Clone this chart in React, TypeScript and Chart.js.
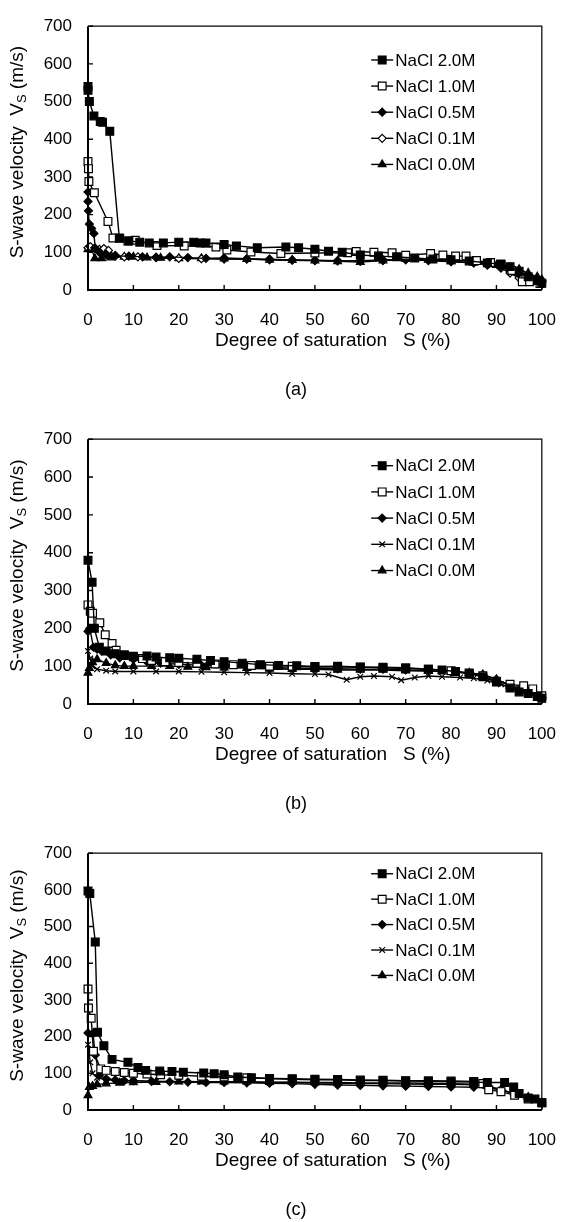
import React, { useEffect, useRef } from 'react';
import { Chart, registerables } from 'chart.js';

Chart.register(...registerables);

const FONT = '"Liberation Sans", Arial, sans-serif';

const SERIES_LABELS = ['NaCl 2.0M', 'NaCl 1.0M', 'NaCl 0.5M', 'NaCl 0.1M', 'NaCl 0.0M'];
const PANEL_CAPTIONS = ['(a)', '(b)', '(c)'];
const X_TITLE = 'Degree of saturation   S (%)';
const Y_TITLE_MAIN = 'S-wave velocity  V';
const Y_TITLE_SUB = 'S';
const Y_TITLE_UNIT = ' (m/s)';
const X_MIN = 0, X_MAX = 100, X_STEP = 10;
const Y_MIN = 0, Y_MAX = 700, Y_STEP = 100;

type P = [number, number][];

// ---- Panel (a) ----
const A_20: P = [[0, 540], [0, 530], [0.3, 500], [1.3, 462], [2.7, 447], [3.2, 445], [4.8, 421], [6.9, 138], [9, 130], [11.4, 127], [13.5, 125], [16.6, 125], [20, 127], [23.3, 127], [24.7, 125], [26, 125], [30, 121], [32.7, 117], [37.3, 112], [43.6, 114], [46.4, 112], [50, 108], [53, 103], [56, 100], [60, 93], [64, 90], [68, 88], [72, 85], [76, 82], [80, 80], [84, 77], [88, 72], [91, 68], [93, 62], [95, 50], [97, 35], [99, 25], [100, 18]];
const A_10: P = [[0, 341], [0.1, 322], [0.2, 288], [1.4, 258], [4.4, 182], [5.5, 138], [7, 137], [8.8, 130], [10.4, 132], [15.2, 118], [21.2, 117], [28.2, 114], [30.6, 106], [35.9, 101], [42.5, 97], [50, 98], [57.2, 99], [59.1, 102], [63, 100], [67, 99], [70, 92], [75.5, 97], [78.2, 93], [81, 90], [83.3, 90], [85.6, 78], [88.7, 73], [91, 69], [93.4, 52], [95.7, 22], [97.3, 22], [99.6, 17]];
const A_05: P = [[0, 260], [0, 235], [0.1, 210], [0.3, 175], [0.8, 163], [1.3, 150], [1.6, 110], [2.5, 100], [4, 95], [6, 90], [9, 90], [12, 88], [15, 87], [18, 88], [22, 86], [26, 84], [30, 85], [35, 83], [40, 82], [45, 80], [50, 79], [55, 78], [60, 76], [65, 78], [70, 80], [75, 78], [80, 75], [85, 72], [88, 68], [91, 62], [93, 55], [95, 45], [97, 35], [100, 25]];
const A_01: P = [[0, 112], [0.5, 115], [1.5, 112], [2.5, 108], [3.5, 110], [4.5, 105], [6, 92], [8, 88], [11, 88], [15, 86], [20, 84], [25, 83], [30, 82], [35, 82], [40, 80], [45, 79], [50, 78], [55, 77], [60, 78], [65, 80], [70, 82], [75, 80], [80, 76], [85, 72], [88, 66], [91, 58], [93, 45], [95, 32], [97, 30], [100, 22]];
const A_00: P = [[0, 108], [0.8, 110], [1.5, 84], [3, 84], [5, 86], [8, 88], [10, 88], [13, 86], [16, 85], [20, 84], [25, 84], [30, 83], [35, 82], [40, 80], [45, 79], [50, 78], [55, 76], [60, 74], [65, 78], [70, 82], [75, 80], [80, 76], [85, 72], [90, 66], [93, 60], [95, 55], [97, 45], [99, 35], [100, 28]];

// ---- Panel (b) ----
const B_20: P = [[0, 380], [0.9, 322], [1.4, 200], [2.5, 150], [4, 140], [6, 133], [8, 128], [10, 126], [13, 127], [15, 124], [18, 122], [20, 121], [24, 118], [27, 115], [30, 112], [34, 108], [38, 104], [42, 102], [46, 101], [50, 99], [55, 100], [60, 98], [65, 96], [70, 94], [75, 92], [78, 90], [81, 86], [84, 80], [87, 72], [90, 58], [93, 42], [95, 32], [97, 28], [99, 20], [100, 15]];
const B_10: P = [[0, 262], [0.5, 245], [1, 240], [2.6, 215], [3.8, 183], [5.3, 160], [6.2, 142], [8, 130], [10, 125], [12, 120], [14, 115], [17, 112], [20, 110], [24, 108], [28, 106], [32, 104], [36, 102], [40, 100], [45, 100], [50, 98], [55, 98], [60, 97], [65, 97], [70, 96], [75, 92], [80, 88], [84, 82], [87, 75], [90, 60], [93, 52], [96, 48], [98, 40], [100, 22]];
const B_05: P = [[0, 192], [0.4, 200], [1.2, 150], [2, 145], [3, 140], [5, 130], [7, 122], [10, 118], [13, 112], [16, 108], [20, 105], [25, 102], [30, 100], [35, 98], [40, 96], [45, 95], [50, 94], [55, 93], [60, 92], [65, 92], [70, 90], [75, 88], [80, 85], [84, 82], [87, 78], [90, 65], [93, 50], [95, 38], [97, 30], [100, 18]];
const B_01: P = [[0, 140], [0.5, 120], [1, 100], [2, 92], [4, 88], [6, 86], [10, 86], [15, 86], [20, 86], [25, 85], [30, 84], [35, 83], [40, 82], [45, 80], [50, 79], [53, 78], [57, 64], [60, 72], [63, 74], [67, 72], [69, 63], [72, 70], [75, 74], [78, 72], [82, 70], [85, 68], [88, 62], [91, 52], [94, 42], [97, 32], [100, 22]];
const B_00: P = [[0, 82], [0.3, 95], [1, 110], [2, 118], [4, 108], [6, 102], [8, 100], [10, 100], [14, 100], [18, 100], [22, 98], [26, 97], [30, 96], [35, 95], [40, 93], [45, 92], [50, 92], [55, 90], [60, 90], [65, 90], [70, 88], [75, 87], [80, 85], [84, 82], [87, 78], [90, 65], [93, 48], [95, 38], [97, 30], [100, 20]];

// ---- Panel (c) ----
const C_20: P = [[0, 597], [0.4, 590], [1.6, 458], [2.1, 212], [3.5, 175], [5.3, 138], [8.8, 130], [11, 116], [12.7, 108], [15.8, 106], [18.5, 105], [21, 103], [25.5, 101], [27.8, 99], [30, 96], [33, 90], [36, 88], [40, 86], [45, 84], [50, 82], [55, 82], [60, 80], [65, 80], [70, 79], [75, 78], [80, 77], [85, 76], [88, 75], [91.8, 75], [93.8, 63], [95, 45], [97, 33], [98.5, 30], [100, 20]];
const C_10: P = [[0, 330], [0.1, 278], [0.7, 250], [1.2, 160], [2.8, 112], [4, 108], [6, 105], [8, 102], [10, 100], [13, 98], [16, 96], [20, 95], [25, 92], [30, 90], [35, 88], [40, 86], [45, 85], [50, 84], [55, 83], [60, 82], [65, 81], [70, 80], [75, 80], [80, 79], [85, 78], [87, 72], [88.3, 55], [91, 50], [94, 40], [97, 30], [100, 20]];
const C_05: P = [[0, 210], [1.1, 208], [1.6, 150], [2.5, 95], [4, 85], [6, 82], [8, 80], [10, 80], [14, 78], [18, 77], [22, 76], [26, 75], [30, 75], [35, 74], [40, 73], [45, 72], [50, 70], [55, 68], [60, 67], [65, 66], [70, 65], [75, 64], [80, 63], [85, 62], [88, 60], [91, 55], [94, 45], [97, 33], [100, 20]];
const C_01: P = [[0, 178], [0.5, 130], [1, 100], [2, 88], [4, 82], [7, 80], [10, 80], [15, 78], [20, 78], [25, 77], [30, 76], [35, 76], [40, 75], [45, 75], [50, 74], [55, 73], [60, 72], [65, 72], [70, 71], [75, 70], [80, 70], [85, 69], [88, 66], [91, 55], [94, 45], [97, 35], [100, 22]];
const C_00: P = [[0, 40], [0.3, 62], [1, 65], [2, 70], [4, 72], [7, 74], [10, 75], [15, 76], [20, 77], [25, 77], [30, 77], [35, 77], [40, 76], [45, 76], [50, 75], [55, 75], [60, 74], [65, 74], [70, 74], [75, 73], [80, 72], [85, 70], [88, 65], [91, 55], [94, 45], [97, 35], [100, 20]];

// ---- styling (not data) ----
type Mk = { shape: string; fill: string; r: number };
const SQ_F: Mk = { shape: 'rect', fill: '#000', r: 5.5 };
const SQ_O: Mk = { shape: 'rect', fill: '#fff', r: 5.5 };
const DI_F: Mk = { shape: 'rectRot', fill: '#000', r: 4 };
const DI_O: Mk = { shape: 'rectRot', fill: '#fff', r: 4 };
const X_M: Mk = { shape: 'crossRot', fill: '#000', r: 4 };
const TR_F: Mk = { shape: 'triangle', fill: '#000', r: 4.5 };

const PLOT_LEFT = 88;
const PLOT_RIGHT = 563;

function drawMarker(ctx: CanvasRenderingContext2D, m: Mk, x: number, y: number) {
  const r = m.r;
  ctx.save();
  ctx.beginPath();
  if (m.shape === 'rect') {
    const s = r * Math.SQRT1_2;
    ctx.rect(x - s, y - s, 2 * s, 2 * s);
  } else if (m.shape === 'rectRot') {
    ctx.moveTo(x, y - r); ctx.lineTo(x + r, y); ctx.lineTo(x, y + r); ctx.lineTo(x - r, y); ctx.closePath();
  } else if (m.shape === 'triangle') {
    ctx.moveTo(x, y - r); ctx.lineTo(x + r * 0.866, y + r * 0.5); ctx.lineTo(x - r * 0.866, y + r * 0.5); ctx.closePath();
  } else if (m.shape === 'crossRot') {
    const s = r * Math.SQRT1_2;
    ctx.moveTo(x - s, y - s); ctx.lineTo(x + s, y + s); ctx.moveTo(x + s, y - s); ctx.lineTo(x - s, y + s);
  }
  if (m.shape !== 'crossRot') { ctx.fillStyle = m.fill; ctx.fill(); }
  ctx.strokeStyle = '#000'; ctx.lineWidth = 1.2; ctx.stroke();
  ctx.restore();
}

const decorPlugin = {
  id: 'decor',
  afterDraw(chart: any, _args: any, opts: any) {
    const { ctx, chartArea: ca, scales } = chart;
    const xs = scales.x, ys = scales.y;
    const w = ca.right - ca.left, h = ca.bottom - ca.top;
    ctx.save();
    ctx.strokeStyle = '#000';
    ctx.lineWidth = 1.2;
    ctx.beginPath();
    ctx.moveTo(ca.left, ca.top); ctx.lineTo(ca.right, ca.top); ctx.lineTo(ca.right, ca.bottom);
    ctx.stroke();
    ctx.lineWidth = 2;
    ctx.beginPath();
    ctx.moveTo(ca.left, ca.top); ctx.lineTo(ca.left, ca.bottom); ctx.lineTo(ca.right, ca.bottom);
    ctx.stroke();
    ctx.lineWidth = 1.4;
    ctx.beginPath();
    xs.ticks.forEach((t: any) => {
      const px = xs.getPixelForValue(t.value);
      ctx.moveTo(px, ca.bottom); ctx.lineTo(px, ca.bottom - 5);
    });
    ys.ticks.forEach((t: any) => {
      const py = ys.getPixelForValue(t.value);
      ctx.moveTo(ca.left, py); ctx.lineTo(ca.left + 5, py);
    });
    ctx.stroke();

    ctx.fillStyle = '#000';
    ctx.save();
    ctx.translate(opts.yTitleX, (ca.top + ca.bottom) / 2 - 6);
    ctx.rotate(-Math.PI / 2);
    const big = `19px ${FONT}`, small = `13px ${FONT}`;
    ctx.font = big;
    const w1 = ctx.measureText(Y_TITLE_MAIN).width;
    const w3 = ctx.measureText(Y_TITLE_UNIT).width;
    ctx.font = small;
    const w2 = ctx.measureText(Y_TITLE_SUB).width;
    let sx = -(w1 + w2 + w3) / 2;
    ctx.textBaseline = 'middle';
    ctx.textAlign = 'left';
    ctx.font = big; ctx.fillText(Y_TITLE_MAIN, sx, 0); sx += w1;
    ctx.font = small; ctx.fillText(Y_TITLE_SUB, sx, 4); sx += w2;
    ctx.font = big; ctx.fillText(Y_TITLE_UNIT, sx, 0);
    ctx.restore();

    ctx.font = `19px ${FONT}`;
    ctx.textAlign = 'left';
    ctx.textBaseline = 'middle';
    ctx.fillText(X_TITLE, ca.left + 127, ca.bottom + opts.xTitleOffset);

    ctx.font = `18px ${FONT}`;
    ctx.textAlign = 'center';
    ctx.fillText(opts.caption, opts.captionX, ca.bottom + opts.captionOffset);

    const lx = ca.left + 0.624 * w;
    const lineLen = 22;
    ctx.font = `17px ${FONT}`;
    ctx.textAlign = 'left';
    SERIES_LABELS.forEach((lab, i) => {
      const yy = ca.top + opts.legendTop * h + i * 0.099 * h;
      ctx.strokeStyle = '#000';
      ctx.lineWidth = 1.4;
      ctx.beginPath(); ctx.moveTo(lx, yy); ctx.lineTo(lx + lineLen, yy); ctx.stroke();
      drawMarker(ctx, opts.markers[i], lx + lineLen / 2, yy);
      ctx.fillStyle = '#000';
      ctx.fillText(lab, lx + lineLen + 2, yy + 1);
    });
    ctx.restore();
  },
};

type PanelProps = { series: P[]; markers: Mk[]; caption: string; height: number; top: number; bottom: number; legendTop: number };

function Panel({ series, markers, caption, height, top, bottom, legendTop }: PanelProps) {
  const ref = useRef<HTMLCanvasElement>(null);
  useEffect(() => {
    const tickFont = { family: FONT, size: 17 };
    const chart = new Chart(ref.current as HTMLCanvasElement, {
      type: 'scatter',
      data: {
        datasets: series.map((pts, i) => ({
          label: SERIES_LABELS[i],
          data: pts.map(([x, y]) => ({ x, y })),
          showLine: true,
          borderColor: '#000',
          borderWidth: 1.4,
          pointStyle: markers[i].shape as any,
          pointRadius: markers[i].r,
          pointBackgroundColor: markers[i].fill,
          pointBorderColor: '#000',
          pointBorderWidth: 1.2,
          clip: false as any,
        })),
      },
      options: {
        animation: false,
        responsive: false,
        events: [],
        layout: { padding: { top, right: 576 - PLOT_RIGHT, left: 0, bottom: 0 } },
        scales: {
          x: {
            type: 'linear',
            min: X_MIN, max: X_MAX,
            ticks: { stepSize: X_STEP, font: tickFont, color: '#000', padding: 20, maxRotation: 0, autoSkip: false },
            grid: { display: false, drawTicks: false },
            border: { display: false },
            afterFit: (s: any) => { s.height = height - bottom; },
          },
          y: {
            type: 'linear',
            min: Y_MIN, max: Y_MAX,
            ticks: { stepSize: Y_STEP, font: tickFont, color: '#000', padding: 16 },
            grid: { display: false, drawTicks: false },
            border: { display: false },
            afterFit: (s: any) => { s.width = PLOT_LEFT; },
          },
        },
        plugins: {
          legend: { display: false },
          tooltip: { enabled: false },
          decor: { caption, markers, legendTop, yTitleX: 18, xTitleOffset: 51, captionOffset: 100, captionX: 296 },
        } as any,
      },
      plugins: [decorPlugin],
    });
    return () => chart.destroy();
  }, []);
  return <canvas ref={ref} width={576} height={height} style={{ display: 'block' }} />;
}

export default function App() {
  useEffect(() => {
    document.body.style.margin = '0';
    document.body.style.background = '#fff';
  }, []);
  return (
    <div style={{ width: 576, background: '#fff' }}>
      <Panel series={[A_20, A_10, A_05, A_01, A_00]} markers={[SQ_F, SQ_O, DI_F, DI_O, TR_F]} caption={PANEL_CAPTIONS[0]} height={413} top={20} bottom={290} legendTop={0.128} />
      <Panel series={[B_20, B_10, B_05, B_01, B_00]} markers={[SQ_F, SQ_O, DI_F, X_M, TR_F]} caption={PANEL_CAPTIONS[1]} height={414} top={20} bottom={291} legendTop={0.1} />
      <Panel series={[C_20, C_10, C_05, C_01, C_00]} markers={[SQ_F, SQ_O, DI_F, X_M, TR_F]} caption={PANEL_CAPTIONS[2]} height={395} top={19} bottom={283} legendTop={0.08} />
    </div>
  );
}
